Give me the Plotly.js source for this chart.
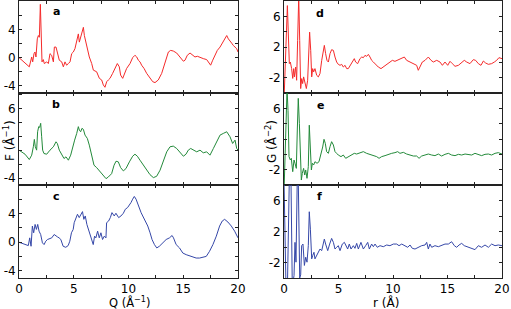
<!DOCTYPE html>
<html><head><meta charset="utf-8">
<script src="https://cdn.plot.ly/plotly-3.0.1.min.js"></script>
<style>html,body{margin:0;padding:0;background:#fff}#c{width:511px;height:309px}</style>
</head><body><div id="c"></div>
<script>
// Panel a: F(Q)
const Qa = [0,0.94,1.16,1.25,1.37,1.46,1.55,1.67,1.77,1.86,
1.95,2.01,2.10,2.22,2.31,2.53,2.68,2.83,2.98,3.14,
3.23,3.38,3.50,3.68,3.90,4.05,4.20,4.35,4.51,4.66,
4.81,4.96,5.11,5.27,5.42,5.51,5.63,5.75,5.88,5.97,
6.12,6.24,6.42,6.64,6.79,7.09,7.34,7.55,7.70,7.85,
8.01,8.16,8.31,8.55,8.77,8.98,9.16,9.28,9.47,9.59,
9.83,10.14,10.38,10.59,10.75,10.90,11.05,11.20,11.42,11.66,
11.96,12.21,12.42,12.72,13.03,13.33,13.64,13.85,14.09,14.40,
14.70,15.01,15.16,15.37,15.62,15.86,16.07,16.29,16.53,16.83,
17.14,17.38,17.50,17.69,17.90,18.11,18.36,18.60,18.81,18.97,
19.12,19.27,19.42,19.57,19.73,19.88,20];
const Fa = [0,-1.3,0.09,-0.6,0.56,0.79,0.09,2.65,3.12,2.88,
7.53,5.2,-0.6,-0.28,-0.84,-0.6,-0.84,0.56,0.33,-0.6,
1.49,1.49,0.56,-0.37,-0.6,-1.3,-0.6,-1.07,-0.84,-0.6,
0.56,0.79,1.26,2.19,3.35,2.19,2.88,3.35,4.28,3.12,
1.95,1.26,0.09,-0.84,-1.77,-2.0,-2.93,-3.16,-3.86,-4.19,
-3.4,-3.16,-2.93,-2.23,-1.53,-0.84,-1.3,-2.47,-2.93,-2.47,
-1.53,-0.84,0,0.33,0.09,-0.37,-0.6,-1.07,-1.53,-2.23,
-2.93,-3.4,-3.53,-3.16,-2.23,-0.84,0.79,1.02,0.93,0.65,
0.09,-0.51,-0.37,0.33,0.65,0.33,0.09,0.19,0.09,-0.14,
-0.28,-0.84,-1.07,-0.37,0.33,1.02,1.49,2.19,2.65,3.12,
2.65,2.42,2.05,1.72,1.49,1.26,0.79];
// Panel b
const Qb = [0,0.55,0.94,1.16,1.31,1.40,1.49,1.61,1.70,1.80,
1.89,1.98,2.07,2.16,2.28,2.53,2.83,3.14,3.38,3.50,
3.68,3.90,4.11,4.29,4.51,4.72,4.90,5.08,5.27,5.42,
5.51,5.63,5.75,5.88,6.03,6.24,6.42,6.64,6.85,7.09,
7.40,7.70,7.95,8.16,8.46,8.68,8.86,9.07,9.28,9.53,
9.77,10.08,10.38,10.59,10.81,11.05,11.35,11.66,11.96,12.27,
12.57,12.88,13.18,13.49,13.79,14.09,14.40,14.70,15.01,15.25,
15.46,15.68,15.92,16.23,16.53,16.83,17.14,17.44,17.75,18.05,
18.36,18.66,18.97,19.27,19.51,19.73,19.88,20];
const Fb = [0,-0.58,-1.35,-0.72,0.48,1.54,0.48,0,2.64,3.37,
3.27,3.85,1.92,0,-0.48,-0.58,0,0.48,1.2,0.96,
0,-0.72,-1.2,-0.96,-1.44,-0.72,0.48,1.44,2.4,3.37,
2.88,2.64,3.13,2.98,2.16,1.68,0.72,-0.72,-2.16,-2.5,
-3.13,-3.75,-4.09,-3.85,-3.37,-2.16,-1.59,-1.68,-2.5,-2.98,
-2.64,-1.68,-0.87,-0.58,-0.87,-1.44,-2.16,-2.88,-3.51,-3.94,
-3.75,-2.88,-1.44,-0.24,0.48,0.58,0.24,-0.24,-0.87,-0.58,
0,0.24,0,-0.24,0,-0.38,-0.24,-0.72,0.24,1.2,
2.16,2.4,2.64,1.92,0.96,1.44,0.24,0];
// Panel c
const Qc = [0,0.31,0.61,0.85,0.98,1.10,1.22,1.34,1.47,1.59,
1.71,1.83,1.98,2.14,2.29,2.44,2.60,2.75,2.99,3.21,
3.36,3.51,3.66,3.82,4.03,4.27,4.49,4.64,4.79,4.95,
5.04,5.19,5.34,5.50,5.68,5.80,5.92,6.05,6.20,6.35,
6.50,6.66,6.78,6.90,7.02,7.18,7.33,7.48,7.63,7.79,
7.94,8.00,8.18,8.34,8.49,8.70,8.85,9.10,9.31,9.53,
9.71,9.92,10.08,10.23,10.38,10.53,10.69,10.84,10.99,11.15,
11.30,11.54,11.76,11.97,12.15,12.37,12.58,12.82,13.13,13.44,
13.74,13.98,14.11,14.35,14.66,14.96,15.27,15.57,15.88,16.18,
16.49,16.79,17.10,17.40,17.71,18.02,18.32,18.56,18.78,19.08,
19.39,19.69,20];
const Fc = [0,-0.19,-0.33,-0.47,0.61,-0.56,2.26,1.32,2.49,1.79,
2.49,1.55,1.08,-0.09,-0.33,0.14,0.38,0.47,0.61,1.08,
0.85,0.75,0.61,0.38,-0.56,-0.71,-0.47,0.14,1.32,1.79,
2.73,3.44,3.91,3.44,3.91,4.28,3.2,3.67,2.49,1.79,
1.08,0.38,-0.33,0.85,0.61,1.55,0.61,1.32,0.38,0.85,
0.61,2.73,2.96,3.44,4.14,3.67,4.05,3.44,3.67,4.05,
4.61,4.85,5.18,5.55,6.02,6.4,6.02,5.32,4.61,4.14,
3.67,2.96,2.26,1.32,0.38,-0.33,-0.8,-0.56,-0.09,0.38,
0.61,0.94,0.61,-0.33,-0.8,-1.51,-1.74,-1.88,-2.07,-2.21,
-2.21,-2.12,-1.98,-1.27,-0.33,0.85,2.26,2.96,3.2,2.82,
2.26,1.55,0.61];
// Panel d: G(r)
const rd = [0,0.31,0.49,0.58,0.70,0.80,0.89,0.95,1.07,1.16,
1.25,1.35,1.44,1.53,1.62,1.71,1.80,1.93,2.05,2.17,
2.29,2.35,2.45,2.54,2.63,2.72,2.84,3.00,3.15,3.30,
3.46,3.61,3.70,3.82,3.94,4.07,4.22,4.37,4.53,4.68,
4.83,4.98,5.14,5.29,5.44,5.60,5.75,5.90,6.06,6.21,
6.36,6.45,6.57,6.76,6.97,7.13,7.28,7.43,7.58,7.74,
7.89,8.04,8.20,8.41,8.65,8.90,9.11,9.42,9.72,9.94,
10.18,10.49,10.80,11.04,11.25,11.56,11.87,12.17,12.32,12.48,
12.69,12.94,13.24,13.49,13.70,14.01,14.31,14.53,14.77,15.02,
15.23,15.44,15.69,16.00,16.30,16.54,16.76,17.06,17.37,17.58,
17.83,18.07,18.29,18.50,18.75,19.05,19.30,19.51,19.72,20];
const Gd = [-5,7.4,-0.17,0.04,-0.82,-2.1,-0.82,-1.9,-0.61,-2.34,
2.86,8.5,2.86,-3.42,-2.12,-2.77,-1.9,-2.55,-3.42,-2.34,
1.56,3.94,1.56,-1.9,-0.82,-1.25,-0.82,-1.69,-1.9,-1.47,
0.26,1.77,2.21,1.13,0.26,0.04,1.13,1.65,1.56,0.69,
0.04,-0.26,-0.39,-0.26,-0.61,-0.39,-0.82,-0.82,-0.39,0.04,
0.35,0.48,0.04,-0.17,0.48,0.69,0.61,0.91,0.78,1.04,
0.69,0.26,0.04,-0.30,-0.61,-0.82,-0.61,-0.26,0.04,0.26,
0.13,0.35,0.48,0.69,0.26,0.04,-0.17,-0.39,-1.04,-0.61,
0.04,0.26,0.69,0.26,0.04,0.26,0.04,-0.39,0.04,-0.39,
0.13,-0.17,-0.52,-0.39,0.04,0.26,0.04,-0.17,0.35,0.26,
-0.17,-0.39,0.17,-0.09,-0.26,-0.17,0.04,0.26,0.61,0.48];
// Panel e
const re = [0,0.15,0.28,0.37,0.46,0.58,0.67,0.80,0.92,1.01,
1.13,1.22,1.31,1.41,1.50,1.59,1.68,1.80,1.90,1.99,
2.11,2.23,2.32,2.42,2.51,2.60,2.72,2.84,3.03,3.21,
3.39,3.55,3.67,3.79,3.91,4.07,4.22,4.37,4.53,4.68,
4.83,4.98,5.23,5.44,5.66,5.90,6.15,6.45,6.67,6.97,
7.28,7.58,7.89,8.20,8.50,8.72,8.96,9.27,9.57,9.88,
10.18,10.43,10.64,10.95,11.25,11.56,11.87,12.17,12.39,12.63,
12.94,13.24,13.55,13.85,14.16,14.46,14.77,15.08,15.38,15.69,
16.00,16.30,16.61,16.91,17.22,17.52,17.83,18.13,18.44,18.75,
19.05,19.36,19.66,20];
const Ge = [-5,4.04,8.5,5.74,-0.30,-0.74,-0.52,-2.26,-0.74,-1.17,
-1.83,3.17,7.3,4.04,-1.57,-3.35,-2.48,-1.83,-2.7,-2.04,
-3.13,-1.61,3.8,0.57,-2.04,-1.17,-1.39,-0.96,-1.17,-0.96,
-0.09,0.96,1.96,1.43,0.35,0.13,1.0,1.65,1.22,0.35,
0.13,-0.09,-0.30,-0.09,-0.52,-0.30,-0.09,0.13,0.04,0.22,
0.35,0.13,0,-0.22,-0.30,-0.52,-0.30,-0.17,0,0.13,
0.22,0.35,0.13,0.26,0.04,-0.09,-0.22,-0.22,-0.52,-0.22,
-0.09,0.04,-0.09,-0.17,0.04,-0.22,0,0.13,-0.09,-0.17,
0,-0.09,0.04,0,-0.09,0.13,0,-0.17,0,0.04,
-0.09,0.13,0.22,0.04];
// Panel f
const rf = [0,0.18,0.31,0.49,0.64,0.76,0.92,1.01,1.10,1.22,
1.31,1.44,1.53,1.62,1.74,1.87,1.99,2.11,2.23,2.32,
2.42,2.54,2.63,2.75,2.84,3.00,3.15,3.30,3.46,3.61,
3.70,3.82,4.01,4.19,4.37,4.53,4.68,4.83,4.98,5.14,
5.35,5.54,5.69,5.84,5.99,6.15,6.36,6.51,6.67,6.82,
7.06,7.28,7.49,7.68,7.83,8.04,8.20,8.35,8.56,8.81,
9.11,9.42,9.72,10.03,10.34,10.55,10.80,11.10,11.35,11.56,
11.77,12.02,12.32,12.63,12.94,13.09,13.24,13.39,13.55,13.85,
14.16,14.46,14.77,15.08,15.38,15.63,15.84,16.06,16.30,16.54,
16.91,17.22,17.52,17.83,18.13,18.44,18.75,19.05,19.36,19.66,
20];
const Gf = [8.7,-5,-5.5,9,8.7,-5.1,-3.7,0.6,-1.96,9.1,
8.7,-4.0,-3.6,0.17,0.38,-2.38,-1.32,-1.96,0.17,4.55,
2.3,-1.53,-1.11,-0.68,-1.53,-1.11,-0.68,-0.26,-0.47,0.81,
1.02,0.38,-0.47,0.38,1.11,0.6,-0.26,-0.04,0.17,-0.47,
0.38,0.6,0.17,-0.26,0.38,-0.26,0.17,-0.17,0.47,-0.26,
0.6,-0.26,0.17,0.6,-0.26,0.38,0.04,0.38,-0.04,0.17,
0.04,0.26,0.17,0.38,0.38,0.17,0.38,0.17,-0.04,0.26,
-0.17,-0.26,-0.04,0.17,0.26,0.6,-0.26,0.38,-0.04,0.17,
0.04,0.17,0.38,0.38,0.68,0.17,-0.04,0.26,0.47,0.17,
-0.04,-0.26,-0.34,0.17,-0.04,0.26,-0.04,0.38,0.17,0.26,
0.17];

const xTickVals = [0,5,10,15,20];
const xTickText = ['0','5','10','15','20'];
const yLeftValsAC = [-4,0,4], yLeftTextAC = ['-4','0','4'];
const yLeftValsB = [-4,6], yLeftTextB = ['-4','6'];
const yRightValsDF = [-2,2,6], yRightTextDF = ['-2','2','6'];
const yRightValsE = [-2,6], yRightTextE = ['-2','6'];
const panelLetters = ['a','b','c','d','e','f'];

const RED = '#f52a2a', GREEN = '#238a3a', BLUE = '#3547a8';
const W = 511, H = 309;
const px = v => v / W, py = v => 1 - v / H;

const xL = [px(19), px(238)], xR = [px(284), px(502)];
const yDom = [[py(93), py(1)], [py(185), py(93)], [py(278), py(185)]];

const font = {family: 'DejaVu Sans, sans-serif', size: 11, color: '#000'};
const minorX = {dtick: 2.5, tick0: 0, ticks: 'inside', ticklen: 3, tickcolor: '#222'};
const minorY = {dtick: 2, tick0: 0, ticks: 'inside', ticklen: 3, tickcolor: '#222'};
function xa(dom, anchor, showLabels) {
  return {domain: dom, anchor: anchor, range: [0, 20], showline: true, linecolor: '#222', linewidth: 1,
    mirror: 'ticks', ticks: 'inside', ticklen: 3, tickcolor: '#222', tickmode: 'array', tickvals: xTickVals,
    ticktext: xTickText, minor: minorX, showticklabels: showLabels, showgrid: false, zeroline: false,
    tickfont: {...font, size: 12}, fixedrange: true};
}
function ya(dom, anchor, range, vals, text) {
  return {domain: dom, anchor: anchor, range: range, showline: true, linecolor: '#222', linewidth: 1,
    mirror: 'ticks', ticks: 'inside', ticklen: 3, tickcolor: '#222', tickmode: 'array', tickvals: vals,
    ticktext: text, minor: minorY, showgrid: false, zeroline: false, tickfont: {...font, size: 12}, fixedrange: true};
}
const line = c => ({color: c, width: 1});
const data = [
  {x: Qa, y: Fa, xaxis: 'x', yaxis: 'y', mode: 'lines', line: line(RED)},
  {x: Qb, y: Fb, xaxis: 'x2', yaxis: 'y2', mode: 'lines', line: line(GREEN)},
  {x: Qc, y: Fc, xaxis: 'x3', yaxis: 'y3', mode: 'lines', line: line(BLUE)},
  {x: rd, y: Gd, xaxis: 'x4', yaxis: 'y4', mode: 'lines', line: line(RED)},
  {x: re, y: Ge, xaxis: 'x5', yaxis: 'y5', mode: 'lines', line: line(GREEN)},
  {x: rf, y: Gf, xaxis: 'x6', yaxis: 'y6', mode: 'lines', line: line(BLUE)}
];
const letterPos = [[56,12],[56,104],[56,196],[320,13],[320,105],[319,196]];
const annotations = panelLetters.map((t, i) => ({text: '<b>' + t + '</b>', xref: 'paper', yref: 'paper',
  x: px(letterPos[i][0]), y: py(letterPos[i][1]), xanchor: 'center', yanchor: 'middle', showarrow: false,
  font: {...font, size: 11}}));
annotations.push(
  {text: 'Q (Å<sup>−1</sup>)', xref: 'paper', yref: 'paper', x: px(129), y: py(302), xanchor: 'center', yanchor: 'middle', showarrow: false, font: {...font, size: 11.5}},
  {text: 'r (Å)', xref: 'paper', yref: 'paper', x: px(386), y: py(302), xanchor: 'center', yanchor: 'middle', showarrow: false, font: {...font, size: 12}},
  {text: 'F (Å<sup>−1</sup>)', xref: 'paper', yref: 'paper', x: px(9), y: py(141), xanchor: 'center', yanchor: 'middle', textangle: -90, showarrow: false, font: {...font, size: 12}},
  {text: 'G (Å<sup>−2</sup>)', xref: 'paper', yref: 'paper', x: px(271), y: py(142), xanchor: 'center', yanchor: 'middle', textangle: -90, showarrow: false, font: {...font, size: 12}}
);
const layout = {
  width: W, height: H, margin: {l: 0, r: 0, t: 0, b: 0}, showlegend: false,
  paper_bgcolor: '#fff', plot_bgcolor: '#fff', font: font,
  xaxis: xa(xL, 'y', false), yaxis: ya(yDom[0], 'x', [-5, 8], yLeftValsAC, yLeftTextAC),
  xaxis2: xa(xL, 'y2', false), yaxis2: ya(yDom[1], 'x2', [-5, 8.2], yLeftValsB, yLeftTextB),
  xaxis3: xa(xL, 'y3', true), yaxis3: ya(yDom[2], 'x3', [-5, 8], yLeftValsAC, yLeftTextAC),
  xaxis4: xa(xR, 'y4', false), yaxis4: ya(yDom[0], 'x4', [-4, 8], yRightValsDF, yRightTextDF),
  xaxis5: xa(xR, 'y5', false), yaxis5: ya(yDom[1], 'x5', [-4, 8], yRightValsE, yRightTextE),
  xaxis6: xa(xR, 'y6', true), yaxis6: ya(yDom[2], 'x6', [-4, 8], yRightValsDF, yRightTextDF),
  annotations: annotations
};
Plotly.newPlot('c', data, layout, {staticPlot: true, displayModeBar: false});
</script></body></html>
